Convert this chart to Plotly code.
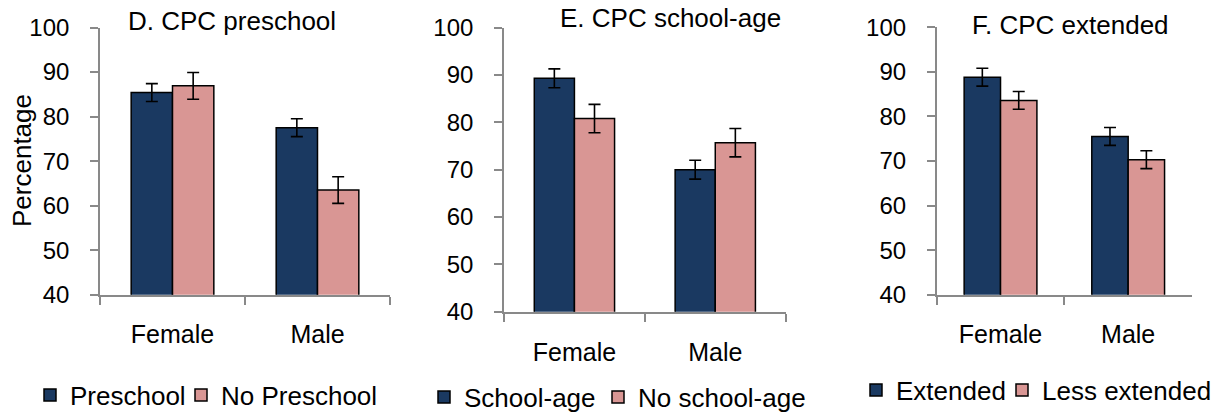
import plotly.graph_objects as go

W, H = 1217, 413

categories = ["Female", "Male"]
y_ticks = [40, 50, 60, 70, 80, 90, 100]

# Panel D
d_title = "D. CPC preschool"
d_names = ["Preschool", "No Preschool"]
d_a = [85.4, 77.5]
d_a_err = [2.0, 2.0]
d_b = [86.9, 63.5]
d_b_err = [3.0, 3.0]

# Panel E
e_title = "E. CPC school-age"
e_names = ["School-age", "No school-age"]
e_a = [89.3, 70.0]
e_a_err = [2.0, 2.0]
e_b = [80.8, 75.7]
e_b_err = [3.0, 3.0]

# Panel F
f_title = "F. CPC extended"
f_names = ["Extended", "Less extended"]
f_a = [88.8, 75.5]
f_a_err = [2.0, 2.0]
f_b = [83.6, 70.3]
f_b_err = [2.0, 2.0]

NAVY = "#1A3961"
PINK = "#D99694"
AXIS = "#898989"
FONT = "Liberation Sans, Arial, sans-serif"

# pixel layout of each panel
panels = [
    dict(px=(100, 390), py=(27.5, 294.7), title=d_title, tpos=(232, 21), names=d_names,
         a=d_a, ae=d_a_err, b=d_b, be=d_b_err, leg=(47, 395), lw=106, xstand=16),
    dict(px=(504, 785.7), py=(27.7, 311.7), title=e_title, tpos=(670, 18), names=e_names,
         a=e_a, ae=e_a_err, b=e_b, be=e_b_err, leg=(441, 397), lw=129, xstand=17),
    dict(px=(936.7, 1192), py=(27.3, 294.7), title=f_title, tpos=(1070, 25.5), names=f_names,
         a=f_a, ae=f_a_err, b=f_b, be=f_b_err, leg=(873, 390), lw=101, xstand=16),
]

fig = go.Figure()
annotations = []
layout = {}
for i, p in enumerate(panels):
    n = "" if i == 0 else str(i + 1)
    xa, ya = "x" + n, "y" + n
    lg = "legend" + n
    for j, (vals, errs, name, col) in enumerate([(p["a"], p["ae"], p["names"][0], NAVY),
                                                 (p["b"], p["be"], p["names"][1], PINK)]):
        fig.add_trace(go.Bar(
            x=categories, y=vals, name=name, xaxis=xa, yaxis=ya, legend=lg,
            legendwidth=p["lw"] if j == 0 else None,
            marker=dict(color=col, line=dict(color="black", width=1.5)),
            error_y=dict(type="data", array=errs, color="black", thickness=1.6, width=6),
        ))
    x0, x1 = p["px"]
    yt, yb = p["py"]
    layout["xaxis" + n] = dict(
        domain=[x0 / W, x1 / W], anchor=ya, type="category", range=[-0.5, 1.5],
        showline=True, linecolor=AXIS, linewidth=1.6, ticks="outside", tickson="boundaries",
        ticklen=8, tickcolor=AXIS, tickwidth=1.6, showgrid=False, zeroline=False,
        tickfont=dict(family=FONT, size=25, color="black"), ticklabelstandoff=p["xstand"],
    )
    layout["yaxis" + n] = dict(
        domain=[(H - yb) / H, (H - yt) / H], anchor=xa, range=[40, 100],
        tickvals=y_ticks, showline=True, linecolor=AXIS, linewidth=1.6, ticks="outside",
        ticklen=8, tickcolor=AXIS, tickwidth=1.6, showgrid=False, zeroline=False,
        tickfont=dict(family=FONT, size=24, color="black"), ticklabelstandoff=16,
    )
    # symbol sits 14px right of legend x; nudge left 3px as a compromise with the text gap
    layout[lg] = dict(
        orientation="h", x=(p["leg"][0] - 17) / W, xanchor="left", y=(H - p["leg"][1]) / H,
        yanchor="middle", font=dict(family=FONT, size=26, color="black"),
        bgcolor="rgba(0,0,0,0)", borderwidth=0, traceorder="normal",
    )
    annotations.append(dict(
        text=p["title"], x=p["tpos"][0] / W, y=(H - p["tpos"][1]) / H, xref="paper", yref="paper",
        xanchor="center", yanchor="middle", showarrow=False,
        font=dict(family=FONT, size=26, color="black"),
    ))

annotations.append(dict(
    text="Percentage", x=22 / W, y=(H - 161) / H, xref="paper", yref="paper",
    xanchor="center", yanchor="middle", showarrow=False, textangle=-90,
    font=dict(family=FONT, size=26, color="black"),
))

fig.update_layout(
    width=W, height=H, margin=dict(l=0, r=0, t=0, b=0, pad=0, autoexpand=False),
    paper_bgcolor="white", plot_bgcolor="white",
    barmode="group", bargap=0.43, bargroupgap=0,
    annotations=annotations, **layout,
)

fig.write_html(
    "out.html",
    config={"displayModeBar": False},
    post_script="document.body.style.margin='0';document.body.style.overflow='hidden';",
)
